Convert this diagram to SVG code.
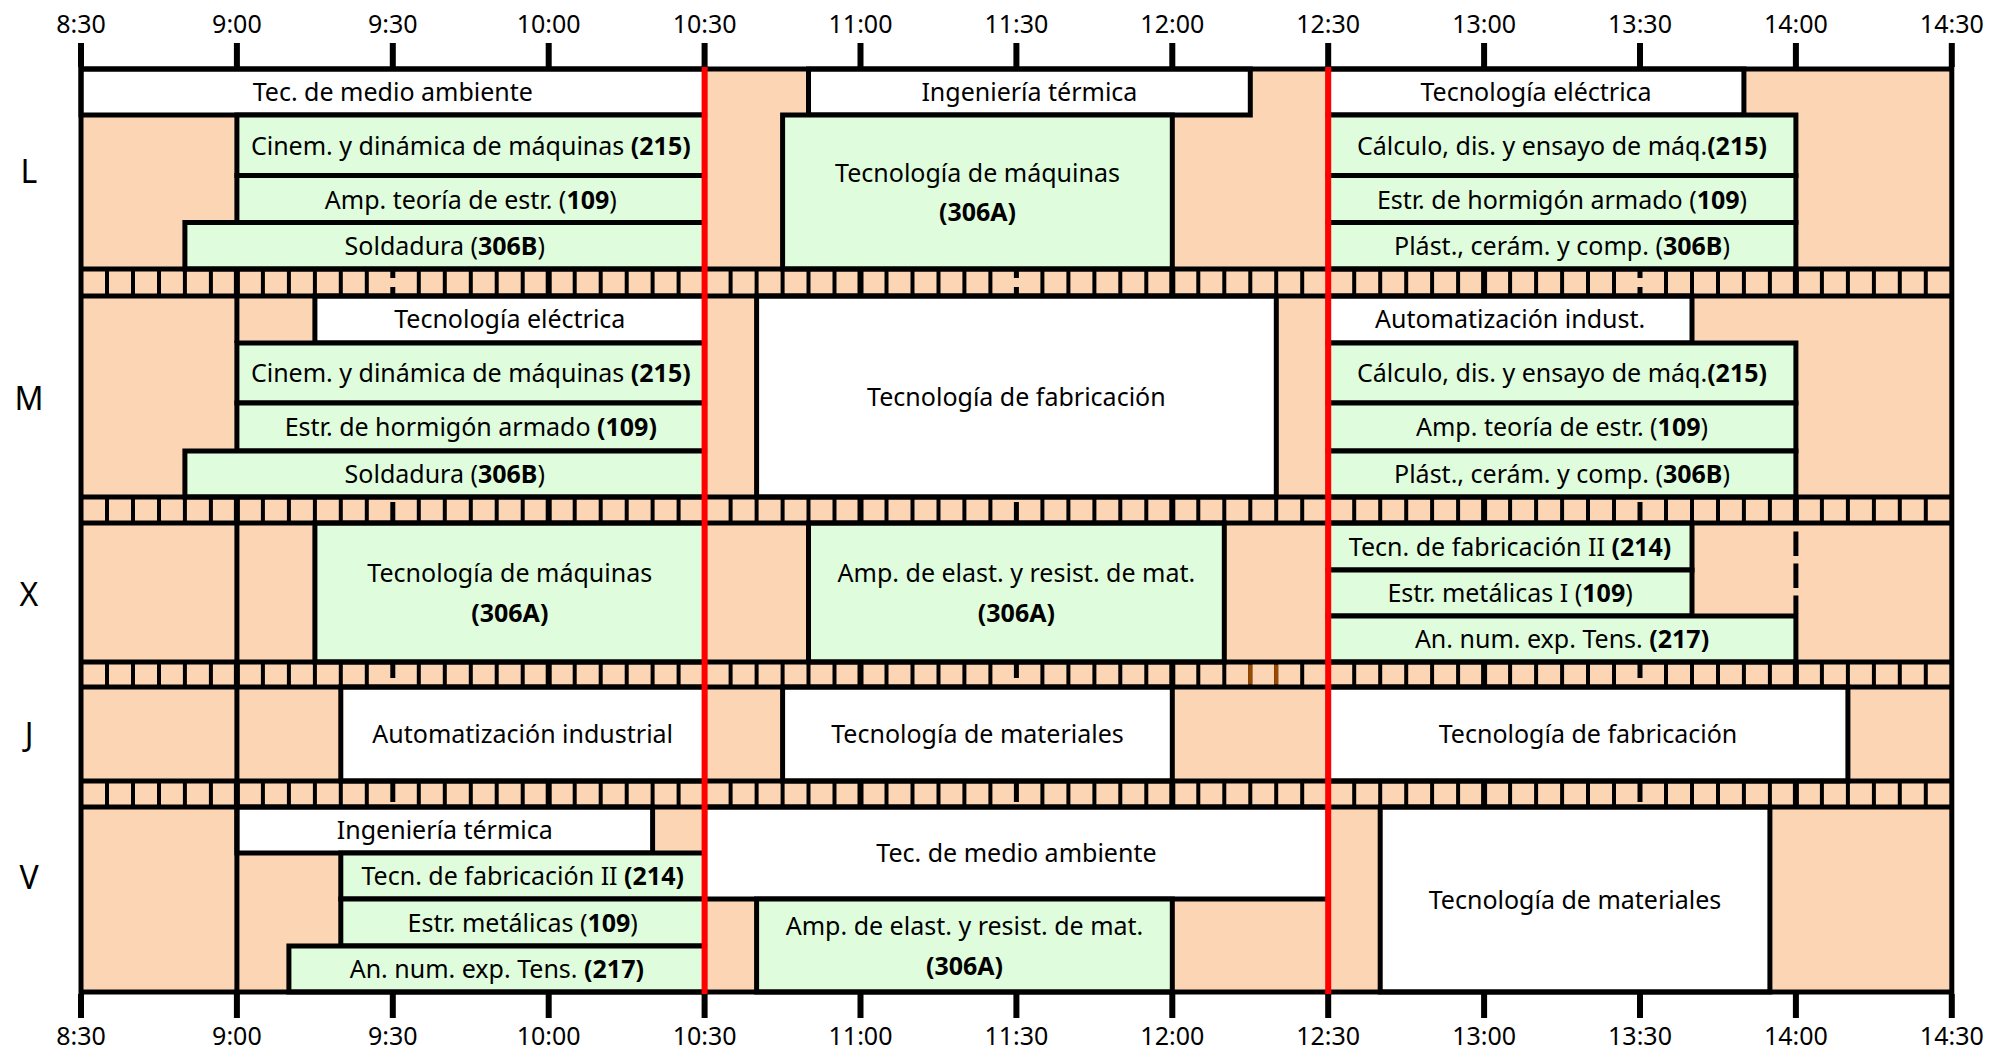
<svg xmlns="http://www.w3.org/2000/svg" width="1990" height="1050" viewBox="0 0 1990 1050">
<style>
text{font-family:"Noto Sans","Liberation Sans",sans-serif;font-size:25px;text-anchor:middle;fill:#000}
.b{font-weight:bold}
.w{fill:#fff;stroke:#000;stroke-width:5}
.g{fill:#DFFDDD;stroke:#000;stroke-width:5}
.ln{stroke:#000;stroke-width:5;fill:none}
.tk{stroke:#000;stroke-width:6;fill:none}
.day{font-size:32px}
</style>
<defs>
<g id="stripLines">
<path class="ln" style="stroke-width:4" d="M107 0v27M133 0v27M159 0v27M184.9 0v27M210.9 0v27M262.9 0v27M288.9 0v27M314.9 0v27M340.8 0v27M366.8 0v27M418.8 0v27M444.8 0v27M470.8 0v27M496.7 0v27M522.7 0v27M574.7 0v27M600.7 0v27M626.7 0v27M652.6 0v27M678.6 0v27M730.6 0v27M756.6 0v27M782.6 0v27M808.5 0v27M834.5 0v27M886.5 0v27M912.5 0v27M938.5 0v27M964.4 0v27M990.4 0v27M1042.4 0v27M1068.4 0v27M1094.4 0v27M1120.3 0v27M1146.3 0v27M1198.3 0v27M1224.3 0v27M1250.3 0v27M1276.2 0v27M1302.2 0v27M1354.2 0v27M1380.2 0v27M1406.2 0v27M1432.1 0v27M1458.1 0v27M1510.1 0v27M1536.1 0v27M1562.1 0v27M1588 0v27M1614 0v27M1666 0v27M1692 0v27M1718 0v27M1743.9 0v27M1769.9 0v27M1821.9 0v27M1847.9 0v27M1873.9 0v27M1899.8 0v27M1925.8 0v27"/>
<path class="ln" style="stroke-width:6" d="M236.9 0v27M548.7 0v27M860.5 0v27M1172.3 0v27M1484.1 0v27M1795.9 0v27"/>
</g>
</defs>
<rect width="1990" height="1050" fill="#fff"/>
<rect x="81" y="69" width="1870.8" height="923" fill="#FCD5B4"/>
<g id="strips">
<use href="#stripLines" y="269"/>
<use href="#stripLines" y="497"/>
<use href="#stripLines" y="662"/>
<use href="#stripLines" y="781"/>
<path class="ln" d="M392.8 269V278M392.8 287V296M1016.4 269V278M1016.4 287V296M1640 269V278M1640 287V296"/>
<path class="ln" d="M392.8 502V523M1016.4 502V523M1640 502V523"/>
<path class="ln" d="M392.8 662V678M1016.4 662V678M1640 662V678"/>
<path class="ln" d="M392.8 781V802M1016.4 781V802M1640 781V802"/>
<path d="M1250.3 664.5V684.5M1276.2 664.5V684.5" stroke="#9A4A00" stroke-width="4"/>
</g>
<g id="L1"><rect class="w" x="81" y="69" width="623.6" height="46"/><text x="392.8" y="101">Tec. de medio ambiente</text></g>
<g id="L2"><rect class="w" x="808.5" y="69" width="441.8" height="46"/><text x="1029.4" y="101">Ingeniería térmica</text></g>
<g id="L3"><rect class="w" x="1328.2" y="69" width="415.7" height="46"/><text x="1536" y="101">Tecnología eléctrica</text></g>
<g id="L4"><rect class="g" x="236.9" y="115" width="467.7" height="60.5"/><text x="470.8" y="154.5">Cinem. y dinámica de máquinas <tspan class="b">(215)</tspan></text></g>
<g id="L5"><rect class="g" x="236.9" y="175.5" width="467.7" height="47"/><text x="470.8" y="208.5">Amp. teoría de estr. (<tspan class="b">109</tspan>)</text></g>
<g id="L6"><rect class="g" x="184.9" y="222.5" width="519.7" height="46.5"/><text x="444.8" y="255">Soldadura (<tspan class="b">306B</tspan>)</text></g>
<g id="L7"><rect class="g" x="782.6" y="115" width="389.7" height="154"/><text x="977.5" y="181.5">Tecnología de máquinas</text><text class="b" x="977.5" y="221">(306A)</text></g>
<g id="L8"><rect class="g" x="1328.2" y="115" width="467.7" height="60.5"/><text x="1562" y="154.5">Cálculo, dis. y ensayo de máq.<tspan class="b">(215)</tspan></text></g>
<g id="L9"><rect class="g" x="1328.2" y="175.5" width="467.7" height="47"/><text x="1562" y="208.5">Estr. de hormigón armado (<tspan class="b">109</tspan>)</text></g>
<g id="L10"><rect class="g" x="1328.2" y="222.5" width="467.7" height="46.5"/><text x="1562" y="255">Plást., cerám. y comp. (<tspan class="b">306B</tspan>)</text></g>
<g id="M11"><rect class="w" x="314.9" y="296" width="389.7" height="47"/><text x="509.8" y="328">Tecnología eléctrica</text></g>
<g id="M12"><rect class="g" x="236.9" y="343" width="467.7" height="60"/><text x="470.8" y="382">Cinem. y dinámica de máquinas <tspan class="b">(215)</tspan></text></g>
<g id="M13"><rect class="g" x="236.9" y="403" width="467.7" height="48"/><text x="470.8" y="436">Estr. de hormigón armado <tspan class="b">(109)</tspan></text></g>
<g id="M14"><rect class="g" x="184.9" y="451" width="519.7" height="46"/><text x="444.8" y="483">Soldadura (<tspan class="b">306B</tspan>)</text></g>
<g id="M15"><rect class="w" x="756.6" y="296" width="519.7" height="201"/><text x="1016.4" y="405.5">Tecnología de fabricación</text></g>
<g id="M16"><rect class="w" x="1328.2" y="296" width="363.8" height="47"/><text x="1510.1" y="328">Automatización indust.</text></g>
<g id="M17"><rect class="g" x="1328.2" y="343" width="467.7" height="60"/><text x="1562" y="382">Cálculo, dis. y ensayo de máq.<tspan class="b">(215)</tspan></text></g>
<g id="M18"><rect class="g" x="1328.2" y="403" width="467.7" height="48"/><text x="1562" y="436">Amp. teoría de estr. (<tspan class="b">109</tspan>)</text></g>
<g id="M19"><rect class="g" x="1328.2" y="451" width="467.7" height="46"/><text x="1562" y="483">Plást., cerám. y comp. (<tspan class="b">306B</tspan>)</text></g>
<g id="X20"><rect class="g" x="314.9" y="523" width="389.7" height="139"/><text x="509.8" y="582">Tecnología de máquinas</text><text class="b" x="509.8" y="621.5">(306A)</text></g>
<g id="X21"><rect class="g" x="808.5" y="523" width="415.8" height="139"/><text x="1016.4" y="582">Amp. de elast. y resist. de mat.</text><text class="b" x="1016.4" y="621.5">(306A)</text></g>
<g id="X22"><rect class="g" x="1328.2" y="523" width="363.8" height="47"/><text x="1510.1" y="555.5">Tecn. de fabricación II <tspan class="b">(214)</tspan></text></g>
<g id="X23"><rect class="g" x="1328.2" y="570" width="363.8" height="46"/><text x="1510.1" y="602">Estr. metálicas I (<tspan class="b">109</tspan>)</text></g>
<g id="X24"><rect class="g" x="1328.2" y="616" width="467.7" height="46"/><text x="1562" y="648">An. num. exp. Tens. <tspan class="b">(217)</tspan></text></g>
<g id="J25"><rect class="w" x="340.8" y="687" width="363.8" height="94"/><text x="522.7" y="743">Automatización industrial</text></g>
<g id="J26"><rect class="w" x="782.6" y="687" width="389.7" height="94"/><text x="977.5" y="743">Tecnología de materiales</text></g>
<g id="J27"><rect class="w" x="1328.2" y="687" width="519.7" height="94"/><text x="1588" y="743">Tecnología de fabricación</text></g>
<g id="V28"><rect class="w" x="236.9" y="807" width="415.7" height="46"/><text x="444.8" y="839">Ingeniería térmica</text></g>
<g id="V29"><rect class="g" x="340.8" y="853" width="363.8" height="46"/><text x="522.7" y="885">Tecn. de fabricación II <tspan class="b">(214)</tspan></text></g>
<g id="V30"><rect class="g" x="340.8" y="899" width="363.8" height="47"/><text x="522.7" y="931.5">Estr. metálicas (<tspan class="b">109</tspan>)</text></g>
<g id="V31"><rect class="g" x="288.9" y="946" width="415.7" height="46"/><text x="496.8" y="978">An. num. exp. Tens. <tspan class="b">(217)</tspan></text></g>
<g id="V32"><rect class="w" x="704.6" y="807" width="623.6" height="92"/><text x="1016.4" y="862">Tec. de medio ambiente</text></g>
<g id="V33"><rect class="g" x="756.6" y="899" width="415.7" height="93"/><text x="964.5" y="935">Amp. de elast. y resist. de mat.</text><text class="b" x="964.5" y="974.5">(306A)</text></g>
<g id="V34"><rect class="w" x="1380.2" y="807" width="389.7" height="185"/><text x="1575" y="908.5">Tecnología de materiales</text></g>
<g id="frame">
<path class="ln" d="M236.9 296V343M236.9 523V662M236.9 687V781M236.9 807V992"/>
<path class="ln" stroke-dasharray="24.5 7.5" d="M1795.9 531.5V614"/>
<path class="ln" d="M81 269H1951.8M81 296H1951.8M81 497H1951.8M81 523H1951.8M81 662H1951.8M81 687H1951.8M81 781H1951.8M81 807H1951.8"/>
<rect class="ln" x="81" y="69" width="1870.8" height="923"/>
</g>
<g id="now-lines">
<path d="M704.6 66.5V994.5M1328.2 66.5V994.5" stroke="#FF0000" stroke-width="6"/>
</g>
<g id="axis">
<path class="tk" d="M81 43V67M236.9 43V67M392.8 43V67M548.7 43V67M704.6 43V67M860.5 43V67M1016.4 43V67M1172.3 43V67M1328.2 43V67M1484.1 43V67M1640 43V67M1795.9 43V67M1951.8 43V67"/>
<path class="tk" d="M81 994V1018M236.9 994V1018M392.8 994V1018M548.7 994V1018M704.6 994V1018M860.5 994V1018M1016.4 994V1018M1172.3 994V1018M1328.2 994V1018M1484.1 994V1018M1640 994V1018M1795.9 994V1018M1951.8 994V1018"/>
<text x="81" y="33">8:30</text><text x="236.9" y="33">9:00</text><text x="392.8" y="33">9:30</text><text x="548.7" y="33">10:00</text><text x="704.6" y="33">10:30</text><text x="860.5" y="33">11:00</text><text x="1016.4" y="33">11:30</text><text x="1172.3" y="33">12:00</text><text x="1328.2" y="33">12:30</text><text x="1484.1" y="33">13:00</text><text x="1640" y="33">13:30</text><text x="1795.9" y="33">14:00</text><text x="1951.8" y="33">14:30</text>
<text x="81" y="1045">8:30</text><text x="236.9" y="1045">9:00</text><text x="392.8" y="1045">9:30</text><text x="548.7" y="1045">10:00</text><text x="704.6" y="1045">10:30</text><text x="860.5" y="1045">11:00</text><text x="1016.4" y="1045">11:30</text><text x="1172.3" y="1045">12:00</text><text x="1328.2" y="1045">12:30</text><text x="1484.1" y="1045">13:00</text><text x="1640" y="1045">13:30</text><text x="1795.9" y="1045">14:00</text><text x="1951.8" y="1045">14:30</text>
</g>
<g id="days">
<text class="day" x="29" y="183">L</text>
<text class="day" x="29" y="410">M</text>
<text class="day" x="29" y="606">X</text>
<text class="day" x="29" y="746">J</text>
<text class="day" x="29" y="889">V</text>
</g>
</svg>
